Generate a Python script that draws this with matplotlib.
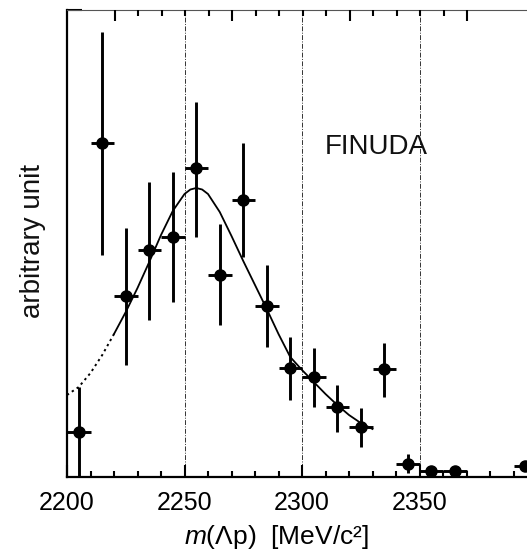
import matplotlib
matplotlib.use("Agg")
import matplotlib.pyplot as plt
import numpy as np

plt.rcParams['font.family'] = ['Liberation Sans', 'DejaVu Sans']
plt.rcParams['mathtext.fontset'] = 'custom'
plt.rcParams['mathtext.rm'] = 'Liberation Sans'
plt.rcParams['mathtext.it'] = 'Liberation Sans:italic'

# ---- data (arbitrary units) ----
bin_centers = [2205, 2215, 2225, 2235, 2245, 2255, 2265, 2275, 2285, 2295,
               2305, 2315, 2325, 2335, 2345, 2355, 2365, 2395]
counts      = [45, 334, 181, 227, 240, 309, 202, 277, 171, 109,
               100, 70, 50, 108, 13, 6, 6, 11]
err_low     = [45, 112, 69, 70, 65, 69, 50, 57, 41, 32,
               30, 25, 20, 28, 9, 4, 4, 5]
err_high    = [45, 111, 68, 68, 65, 66, 51, 57, 41, 31,
               29, 22, 19, 26, 10, 4, 4, 5]
bin_half_width = 5

fit_x = [2200, 2205, 2210, 2215, 2220, 2225, 2230, 2235, 2240, 2245, 2250,
         2252.5, 2255, 2257.5, 2260, 2265, 2270, 2275, 2280, 2285, 2290,
         2295, 2300, 2305, 2310, 2315, 2320, 2325, 2330]
fit_y = [82, 90, 104, 122, 143, 165, 189, 215, 242, 266, 283,
         287.5, 289, 287.5, 283, 265, 241, 216, 192, 168, 143,
         120, 107, 95, 83, 72, 62, 54, 48]
fit_solid_start = 2220

vlines_x = [2250, 2300, 2350]
x_major = [2200, 2250, 2300, 2350, 2400]
x_minor = list(range(2210, 2400, 10))
threshold = 2370.3            # top axis: binding energy B = threshold - m
top_major_B = [150, 100, 50, 0]
top_minor_B = [140, 130, 120, 110, 90, 80, 70, 60, 40, 30, 20, 10]

# ---- figure ----
W, H = 527, 555
fig = plt.figure(figsize=(W / 100, H / 100), dpi=100)
left_px, right_px, top_px, bottom_px = 67, 537, 10, 477
ax = fig.add_axes([left_px / W, 1 - bottom_px / H,
                   (right_px - left_px) / W, (bottom_px - top_px) / H])
ax.set_xlim(2200, 2400)
ax.set_ylim(0, 467)

for xv in vlines_x:
    ax.axvline(xv, color='#333333', lw=0.7, ls=(0, (5, 1.5, 1, 1.5)), zorder=1)

fx = np.array(fit_x)
fy = np.array(fit_y)
m_dot = fx <= fit_solid_start
m_sol = fx >= fit_solid_start
ax.plot(fx[m_dot], fy[m_dot], color='black', lw=1.4, ls=(0, (1.2, 1.8)), zorder=2)
ax.plot(fx[m_sol], fy[m_sol], color='black', lw=1.3, zorder=2)

ax.errorbar(bin_centers, counts, xerr=bin_half_width, yerr=[err_low, err_high],
            fmt='o', color='black', ms=8, elinewidth=2.1, capsize=0, zorder=3,
            clip_on=False)

ax.text(2331.5, 330, 'FINUDA', fontsize=20, ha='center', va='center',
        color='#111111')

# axes styling
for s in ['left', 'bottom']:
    ax.spines[s].set_linewidth(1.6)
ax.spines['top'].set_linewidth(0.8)
ax.spines['top'].set_color('#555555')
ax.spines['right'].set_visible(False)

ax.set_xticks(x_major)
ax.set_xticks(x_minor, minor=True)
ax.set_xticklabels([str(v) for v in x_major[:-1]] + [''])
ax.tick_params(axis='x', which='major', direction='in', length=9, width=1.5,
               labelsize=18, pad=10, top=False)
ax.tick_params(axis='x', which='minor', direction='in', length=4.5, width=1.5,
               top=False)
ax.set_yticks([467])
ax.set_yticklabels([])
ax.tick_params(axis='y', direction='in', length=11, width=1.5, right=False)

ax2 = ax.twiny()
ax2.set_xlim(ax.get_xlim())
ax2.set_xticks([threshold - b for b in top_major_B])
ax2.set_xticks([threshold - b for b in top_minor_B], minor=True)
ax2.set_xticklabels([])
ax2.tick_params(axis='x', which='major', direction='in', length=8, width=1.5)
ax2.tick_params(axis='x', which='minor', direction='in', length=4, width=1.5)
for s in ax2.spines.values():
    s.set_visible(False)

fig.text(276 / W, 1 - 537 / H, r'$m$(Λp)  [MeV/c²]', fontsize=19,
         ha='center', va='center')
fig.text(33 / W, 1 - 241 / H, 'arbitrary unit', fontsize=20, rotation=90,
         ha='center', va='center', color='#111111')

fig.savefig('out.png', dpi=100)
